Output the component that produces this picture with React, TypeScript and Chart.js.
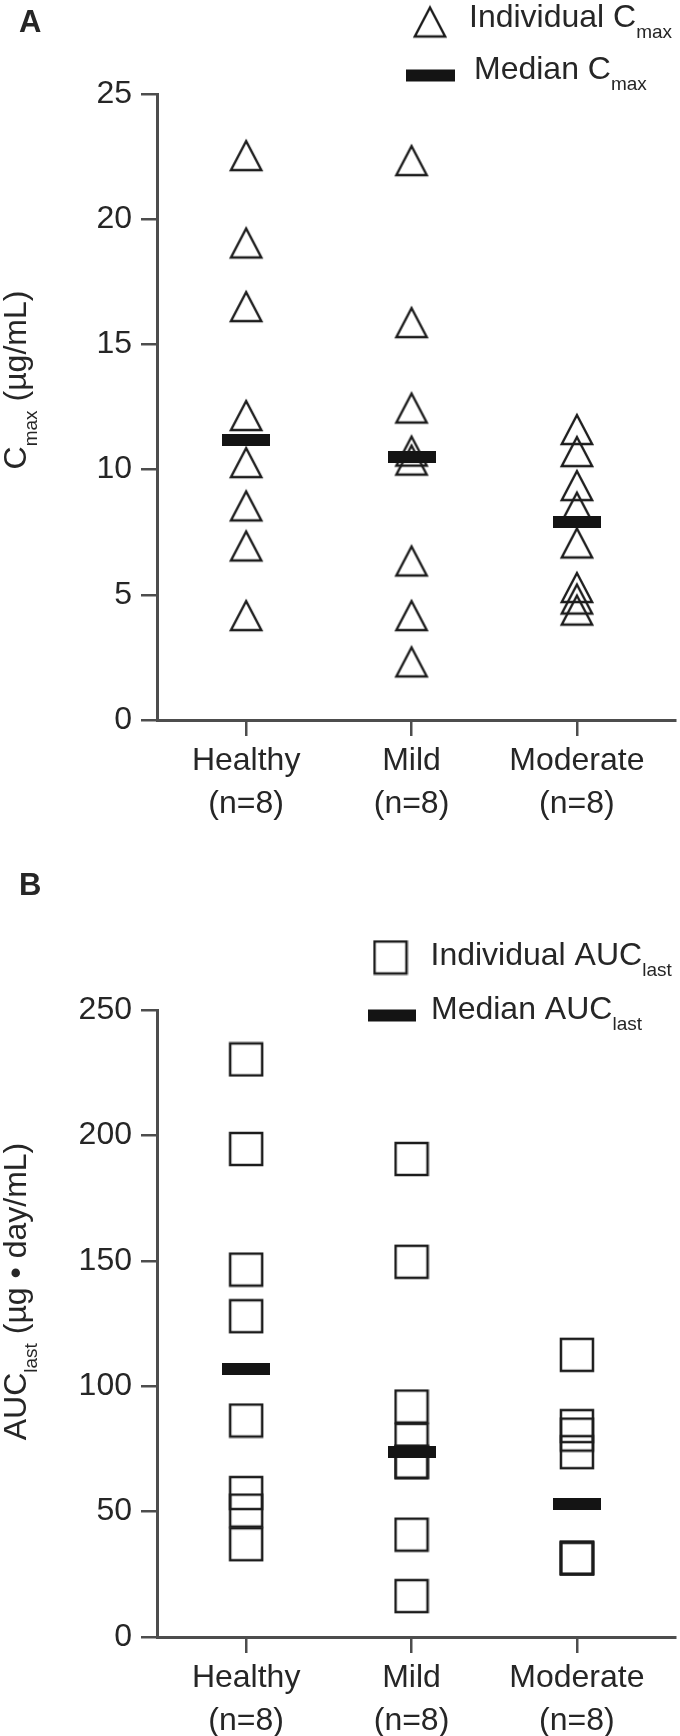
import React, { useEffect, useRef } from 'react';
import { Chart, registerables } from 'chart.js';

Chart.register(...registerables);

// ---------- data ----------
const categories = ['Healthy', 'Mild', 'Moderate'];
const groupSizes = ['(n=8)', '(n=8)', '(n=8)'];
const categoryX = [1, 2, 3];

const cmaxHealthy = [22.56, 19.07, 16.53, 12.18, 10.3, 8.57, 6.97, 4.19];
const cmaxMild = [22.36, 15.89, 12.48, 10.76, 10.4, 6.37, 4.19, 2.34];
const cmaxModerate = [11.62, 10.74, 9.38, 8.52, 7.09, 5.31, 4.85, 4.41];
const cmaxMedian = [11.2, 10.5, 7.89];
const cmaxYTicks = [0, 5, 10, 15, 20, 25];

const aucHealthy = [230.3, 194.6, 146.5, 127.9, 86.3, 57.4, 50.4, 37.0];
const aucMild = [190.6, 149.6, 91.9, 78.6, 69.9, 69.7, 40.8, 16.3];
const aucModerate = [112.5, 84.1, 80.7, 73.7, 31.4, 31.4, 31.4, 31.4];
const aucMedian = [106.9, 73.9, 53.2];
const aucYTicks = [0, 50, 100, 150, 200, 250];

// ---------- style ----------
const FONT = "'Liberation Sans', Arial, Helvetica, sans-serif";
const TEXT = '#262626';
const AXIS = '#4d4d4d';
const MARK = '#1c1c1c';
const MEDIAN = '#141414';
const X_MIN = 0.4611;
const X_MAX = 3.593;

function makeMarker(kind: 'triangle' | 'square' | 'bar'): HTMLCanvasElement {
  const c = document.createElement('canvas');
  const ctx = c.getContext('2d') as CanvasRenderingContext2D;
  if (kind === 'bar') {
    c.width = 48;
    c.height = 12;
    ctx.fillStyle = MEDIAN;
    ctx.fillRect(0, 0, 48, 12);
  } else if (kind === 'triangle') {
    c.width = 36;
    c.height = 36;
    ctx.strokeStyle = MARK;
    ctx.lineWidth = 2.4;
    ctx.lineJoin = 'miter';
    ctx.beginPath();
    ctx.moveTo(18, 4);
    ctx.lineTo(2.8, 33);
    ctx.lineTo(33.2, 33);
    ctx.closePath();
    ctx.stroke();
  } else {
    c.width = 36;
    c.height = 36;
    ctx.strokeStyle = MARK;
    ctx.lineWidth = 2.5;
    ctx.strokeRect(2, 2, 32, 32);
  }
  return c;
}

type Parts = { main: string; sub: string; rest?: string };

function partsWidth(ctx: CanvasRenderingContext2D, p: Parts, mainSize: number, subSize: number) {
  ctx.font = `${mainSize}px ${FONT}`;
  let w = ctx.measureText(p.main).width + (p.rest ? ctx.measureText(p.rest).width : 0);
  ctx.font = `${subSize}px ${FONT}`;
  w += ctx.measureText(p.sub).width;
  return w;
}

function drawParts(ctx: CanvasRenderingContext2D, x: number, y: number, p: Parts, mainSize: number, subSize: number, subDy: number) {
  ctx.font = `${mainSize}px ${FONT}`;
  ctx.fillText(p.main, x, y);
  x += ctx.measureText(p.main).width;
  ctx.font = `${subSize}px ${FONT}`;
  ctx.fillText(p.sub, x, y + subDy);
  x += ctx.measureText(p.sub).width;
  if (p.rest) {
    ctx.font = `${mainSize}px ${FONT}`;
    ctx.fillText(p.rest, x, y);
  }
}

type PanelCfg = {
  height: number;
  top: number;
  bottom: number;
  letter: string;
  letterBaseline: number;
  marker: 'triangle' | 'square';
  groups: number[][];
  medians: number[];
  yTicks: number[];
  legendMarker: { x: number; y: number };
  legendBar: { x: number; y: number; w: number; h: number };
  legend1: { x: number; y: number; parts: Parts };
  legend2: { x: number; y: number; parts: Parts };
  title: { x: number; y: number; parts: Parts };
};

const panelA: PanelCfg = {
  height: 860,
  top: 94,
  bottom: 720,
  letter: 'A',
  letterBaseline: 32,
  marker: 'triangle',
  groups: [cmaxHealthy, cmaxMild, cmaxModerate],
  medians: cmaxMedian,
  yTicks: cmaxYTicks,
  legendMarker: { x: 430, y: 21.5 },
  legendBar: { x: 406, y: 69.5, w: 49, h: 12 },
  legend1: { x: 469, y: 27, parts: { main: 'Individual C', sub: 'max' } },
  legend2: { x: 474, y: 78.5, parts: { main: 'Median C', sub: 'max' } },
  title: { x: 26, y: 380, parts: { main: 'C', sub: 'max', rest: ' (\u00b5g/mL)' } },
};

const panelB: PanelCfg = {
  height: 876,
  top: 150,
  bottom: 777,
  letter: 'B',
  letterBaseline: 35,
  marker: 'square',
  groups: [aucHealthy, aucMild, aucModerate],
  medians: aucMedian,
  yTicks: aucYTicks,
  legendMarker: { x: 390.5, y: 97.5 },
  legendBar: { x: 368, y: 149.5, w: 48, h: 12 },
  legend1: { x: 430.5, y: 105, parts: { main: 'Individual AUC', sub: 'last' } },
  legend2: { x: 431, y: 158.5, parts: { main: 'Median AUC', sub: 'last' } },
  title: { x: 26, y: 431.5, parts: { main: 'AUC', sub: 'last', rest: ' (\u00b5g \u2022 day/mL)' } },
};

function buildChart(canvas: HTMLCanvasElement, cfg: PanelCfg) {
  const markImg = makeMarker(cfg.marker);
  const barImg = makeMarker('bar');
  const individual = cfg.groups.flatMap((vals, i) => vals.map((v) => ({ x: categoryX[i], y: v })));
  const medians = cfg.medians.map((v, i) => ({ x: categoryX[i], y: v }));
  const tickFont = { family: FONT, size: 32, lineHeight: 1.33 };

  const decor = {
    id: 'decor' + cfg.letter,
    afterDraw(chart: any) {
      const ctx: CanvasRenderingContext2D = chart.ctx;
      ctx.save();
      ctx.fillStyle = TEXT;
      ctx.textAlign = 'left';
      ctx.textBaseline = 'alphabetic';
      ctx.font = `bold 31px ${FONT}`;
      ctx.fillText(cfg.letter, 19, cfg.letterBaseline);

      ctx.drawImage(markImg, cfg.legendMarker.x - markImg.width / 2, cfg.legendMarker.y - markImg.height / 2);
      ctx.fillStyle = MEDIAN;
      ctx.fillRect(cfg.legendBar.x, cfg.legendBar.y, cfg.legendBar.w, cfg.legendBar.h);

      ctx.fillStyle = TEXT;
      drawParts(ctx, cfg.legend1.x, cfg.legend1.y, cfg.legend1.parts, 32, 19, 11);
      drawParts(ctx, cfg.legend2.x, cfg.legend2.y, cfg.legend2.parts, 32, 19, 11);

      const w = partsWidth(ctx, cfg.title.parts, 32, 19);
      ctx.translate(cfg.title.x, cfg.title.y);
      ctx.rotate(-Math.PI / 2);
      drawParts(ctx, -w / 2, 0, cfg.title.parts, 32, 19, 11);
      ctx.restore();
    },
  };

  return new Chart(canvas, {
    type: 'scatter',
    data: {
      datasets: [
        {
          label: 'Median',
          data: medians,
          pointStyle: barImg as any,
          pointRadius: 4,
          pointHoverRadius: 4,
          order: 0,
          clip: false as any,
        },
        {
          label: 'Individual',
          data: individual,
          pointStyle: markImg as any,
          pointRadius: 4,
          pointHoverRadius: 4,
          order: 1,
          clip: false as any,
        },
      ],
    },
    options: {
      responsive: false,
      animation: false,
      events: [],
      layout: { padding: { top: cfg.top, left: 0, right: 0, bottom: 0 } },
      plugins: {
        legend: { display: false },
        tooltip: { enabled: false },
        title: { display: false },
      },
      scales: {
        x: {
          type: 'linear',
          min: X_MIN,
          max: X_MAX,
          afterFit: (s: any) => {
            s.height = cfg.height - cfg.bottom;
          },
          afterBuildTicks: (s: any) => {
            s.ticks = categoryX.map((v) => ({ value: v }));
          },
          ticks: {
            callback: (v: any) => {
              const i = categoryX.indexOf(Number(v));
              return i >= 0 ? [categories[i], groupSizes[i]] : '';
            },
            font: tickFont,
            color: TEXT,
            padding: 4,
            maxRotation: 0,
            autoSkip: false,
          },
          grid: { drawOnChartArea: false, drawTicks: true, tickLength: 16, color: AXIS, lineWidth: 2.5 },
          border: { display: true, color: AXIS, width: 3 },
        },
        y: {
          type: 'linear',
          min: cfg.yTicks[0],
          max: cfg.yTicks[cfg.yTicks.length - 1],
          afterFit: (s: any) => {
            s.width = 157;
          },
          afterBuildTicks: (s: any) => {
            s.ticks = cfg.yTicks.map((v) => ({ value: v }));
          },
          ticks: { font: tickFont, color: TEXT, padding: 9 },
          grid: { drawOnChartArea: false, drawTicks: true, tickLength: 16, color: AXIS, lineWidth: 2.5 },
          border: { display: true, color: AXIS, width: 3 },
        },
      },
    } as any,
    plugins: [decor],
  });
}

function Panel({ cfg }: { cfg: PanelCfg }) {
  const ref = useRef<HTMLCanvasElement | null>(null);
  useEffect(() => {
    if (!ref.current) return;
    const chart = buildChart(ref.current, cfg);
    return () => chart.destroy();
  }, [cfg]);
  return <canvas ref={ref} width={680} height={cfg.height} style={{ display: 'block', width: 680, height: cfg.height }} />;
}

export default function App() {
  return (
    <div style={{ position: 'absolute', left: 0, top: 0, width: 680, height: 1736, background: '#fff' }}>
      <Panel cfg={panelA} />
      <Panel cfg={panelB} />
    </div>
  );
}
